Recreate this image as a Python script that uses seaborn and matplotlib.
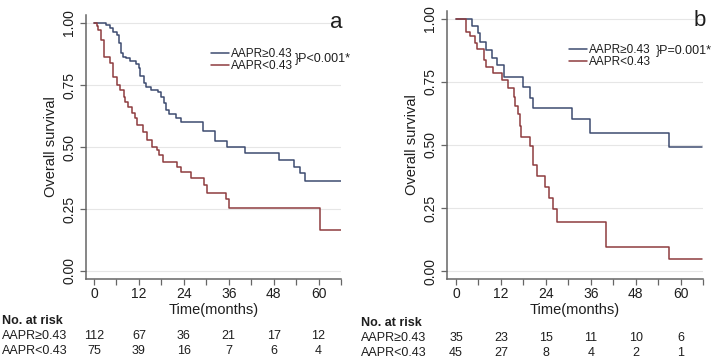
import matplotlib
matplotlib.use("Agg")
import matplotlib.pyplot as plt
import matplotlib.transforms as mtransforms
import numpy as np
import pandas as pd
import seaborn as sns

# ---- data (Kaplan-Meier step points) ----
groups = ["AAPR≥0.43", "AAPR<0.43"]

# panel a
a_hi_t = [0, 3.2, 4.3, 5.0, 6.1, 6.8, 7.3, 7.8, 8.6, 9.7, 11.1, 12.0, 12.4, 13.3, 14.0, 15.3,
          17.1, 18.0, 18.6, 19.2, 20.1, 22.0, 23.3, 29.2, 32.3, 35.5, 40.3, 49.4, 53.4, 55.1,
          56.3, 66.0]
a_hi_s = [1.0, 0.99, 0.98, 0.965, 0.95, 0.918, 0.88, 0.864, 0.857, 0.847, 0.833, 0.82, 0.785,
          0.757, 0.743, 0.73, 0.72, 0.70, 0.677, 0.649, 0.632, 0.616, 0.602, 0.565, 0.526,
          0.502, 0.477, 0.448, 0.42, 0.396, 0.364, 0.364]
a_lo_t = [0, 0.7, 1.2, 1.8, 2.6, 4.3, 5.2, 6.1, 7.0, 7.9, 8.4, 9.2, 10.1, 11.0, 11.5, 13.2,
          14.2, 15.5, 16.8, 17.5, 18.5, 22.2, 23.3, 25.8, 29.4, 30.1, 35.2, 36.1, 60.5, 66.0]
a_lo_s = [1.0, 0.986, 0.97, 0.93, 0.864, 0.837, 0.783, 0.75, 0.73, 0.703, 0.683, 0.663,
          0.636, 0.616, 0.589, 0.562, 0.528, 0.50, 0.488, 0.468, 0.441, 0.42, 0.40, 0.373,
          0.347, 0.316, 0.289, 0.252, 0.167, 0.167]

# panel b
b_hi_t = [0, 4.2, 6.0, 6.5, 8.0, 9.7, 10.9, 12.8, 17.9, 19.8, 20.5, 30.9, 35.8, 56.8, 65.6]
b_hi_s = [1.0, 0.973, 0.943, 0.91, 0.877, 0.844, 0.817, 0.771, 0.729, 0.688, 0.645, 0.603,
          0.549, 0.493, 0.493]
b_lo_t = [0, 2.65, 3.7, 5.0, 5.7, 7.4, 8.0, 9.9, 12.4, 13.9, 15.4, 15.8, 16.5, 17.0, 17.4,
          19.7, 20.7, 21.7, 23.8, 24.9, 25.8, 26.9, 40.0, 56.9, 65.6]
b_lo_s = [1.0, 0.95, 0.933, 0.906, 0.88, 0.837, 0.81, 0.784, 0.758, 0.725, 0.692, 0.655,
          0.622, 0.575, 0.53, 0.495, 0.42, 0.376, 0.335, 0.29, 0.245, 0.193, 0.096, 0.047,
          0.047]

risk_times = [0, 12, 24, 36, 48, 60]
a_risk_hi = [112, 67, 36, 21, 17, 12]
a_risk_lo = [75, 39, 16, 7, 6, 4]
b_risk_hi = [35, 23, 15, 11, 10, 6]
b_risk_lo = [45, 27, 8, 4, 2, 1]

pvals = ["}P<0.001*", "}P=0.001*"]
panel_tags = ["a", "b"]

BLUE = "#3d4b70"
RED = "#8e3c3f"
TXT = "#1e1e1e"

sns.set_style("white")
plt.rcParams["font.family"] = ["Liberation Sans", "DejaVu Sans"]

W, H = 716, 359
fig = plt.figure(figsize=(W / 100, H / 100), dpi=100)


def px(x, y):
    return x / W, 1 - y / H


panels = [
    dict(rect=[86, 15, 341, 279], xlim=(-2.13, 66.0), ylim=(-0.0323, 1.0323),
         hi=(a_hi_t, a_hi_s), lo=(a_lo_t, a_lo_s), risk=(a_risk_hi, a_risk_lo),
         leg=(211, 48), brace=(295, 59), tag=(330, 12), table=(2, 321, 336, 351)),
    dict(rect=[447, 11, 703, 279], xlim=(-2.39, 65.6), ylim=(-0.0317, 1.0317),
         hi=(b_hi_t, b_hi_s), lo=(b_lo_t, b_lo_s), risk=(b_risk_hi, b_risk_lo),
         leg=(569, 44), brace=(656, 51), tag=(694, 10), table=(361, 323, 338, 353)),
]

for i, p in enumerate(panels):
    l, t, r, b = p["rect"]
    ax = fig.add_axes([l / W, 1 - b / H, (r - l) / W, (b - t) / H])

    df = pd.concat([
        pd.DataFrame({"time": p["hi"][0], "surv": p["hi"][1], "group": groups[0]}),
        pd.DataFrame({"time": p["lo"][0], "surv": p["lo"][1], "group": groups[1]}),
    ])
    sns.lineplot(data=df, x="time", y="surv", hue="group", palette=[BLUE, RED],
                 estimator=None, drawstyle="steps-post", linewidth=1.1, ax=ax,
                 legend=False)

    ax.set_xlim(*p["xlim"])
    ax.set_ylim(*p["ylim"])
    ax.set_yticks([0, 0.25, 0.5, 0.75, 1.0])
    ax.set_yticklabels(["0.00", "0.25", "0.50", "0.75", "1.00"])
    ax.set_xticks(risk_times)
    ax.set_xticks(np.arange(6, 67, 12), minor=True)
    for y in [0, 0.25, 0.5, 0.75, 1.0]:
        ax.axhline(y, color="#e6e6e6", lw=0.8, zorder=0)
    sns.despine(ax=ax)
    for s in ["left", "bottom"]:
        ax.spines[s].set_color("#666666")
        ax.spines[s].set_linewidth(1.1)
    ax.tick_params(axis="both", which="both", direction="out", length=4, width=0.9,
                   color="#666666", labelsize=10, labelcolor=TXT,
                   bottom=True, left=True)
    ax.tick_params(axis="x", which="minor", length=4, width=0.9, bottom=True)
    ax.tick_params(axis="y", labelrotation=90, pad=3)
    ax.tick_params(axis="x", pad=2)
    for lbl in ax.get_yticklabels():
        lbl.set_va("center")
    ax.set_xlabel("Time(months)", fontsize=10.5, color=TXT, labelpad=1)
    ax.set_ylabel("Overall survival", fontsize=10.5, color=TXT, labelpad=3)

    # legend
    handles = ax.get_lines()[:2]
    lx, ly = px(*p["leg"])
    ax.legend(handles, groups, loc="upper left", bbox_to_anchor=(lx, ly),
              bbox_transform=fig.transFigure, frameon=False, fontsize=8.5,
              handlelength=1.5, handletextpad=0.15, labelspacing=0.0,
              borderpad=0, borderaxespad=0, labelcolor=TXT)
    bx, by = px(*p["brace"])
    fig.text(bx, by, pvals[i], fontsize=9, color=TXT, va="center", ha="left")
    tx, ty = px(*p["tag"])
    fig.text(tx, ty, panel_tags[i], fontsize=16, color=TXT, va="top", ha="left")

    # number at risk table
    x0, y_head, y1, y2 = p["table"]
    fig.text(x0 / W, 1 - y_head / H, "No. at risk", fontsize=9, fontweight="bold",
             color=TXT, va="center")
    fig.text(x0 / W, 1 - y1 / H, groups[0], fontsize=9, color=TXT, va="center")
    fig.text(x0 / W, 1 - y2 / H, groups[1], fontsize=9, color=TXT, va="center")
    trans = mtransforms.blended_transform_factory(ax.transData, fig.transFigure)
    for tm, n1, n2 in zip(risk_times, p["risk"][0], p["risk"][1]):
        ax.text(tm, 1 - y1 / H, str(n1), transform=trans, fontsize=9, color=TXT,
                ha="center", va="center", clip_on=False)
        ax.text(tm, 1 - y2 / H, str(n2), transform=trans, fontsize=9, color=TXT,
                ha="center", va="center", clip_on=False)

fig.savefig("out.png", dpi=100)
